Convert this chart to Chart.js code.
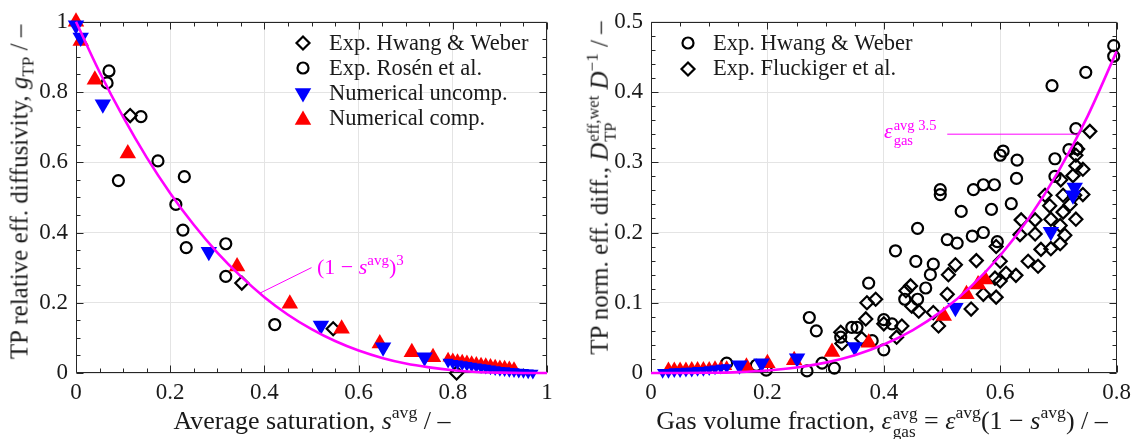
<!DOCTYPE html>
<html>
<head>
<meta charset="utf-8">
<title>TP effective diffusivity</title>
<script src="https://cdn.jsdelivr.net/npm/chart.js@4.4.1/dist/chart.umd.min.js"></script>
<style>
  html, body { margin: 0; padding: 0; background: #fff; }
  body { position: relative; width: 1137px; height: 439px; overflow: hidden;
         font-family: "Liberation Serif", "DejaVu Serif", serif; color: #1a1a1a; }
  #left-wrap { position: absolute; left: 0; top: 0; width: 565px; height: 439px; }
  #right-wrap { position: absolute; left: 580px; top: 0; width: 557px; height: 439px; }
  .label { position: absolute; white-space: nowrap; font-size: 26px; line-height: 1; }
  .label.ytitle { font-size: 25px; }
  .center { transform: translate(-50%, -50%); }
  .vert { transform: translate(-50%, -50%) rotate(-90deg); }
  .note { color: #ff00ff; font-size: 22px; transform: translate(0, -50%); }
  sup, sub { font-size: 68%; line-height: 0; }
  sup { vertical-align: 0.6em; }
  sub { vertical-align: -0.35em; }
  .stack { display: inline-flex; flex-direction: column; vertical-align: middle;
           font-size: 66%; line-height: 1.05; margin-left: 1px; }
</style>
</head>
<body>
<div id="left-wrap"><canvas id="left-chart" width="565" height="439"></canvas></div>
<div id="right-wrap"><canvas id="right-chart" width="557" height="439"></canvas></div>

<!-- axis titles -->
<div class="label center" style="left:312px; top:421px;">Average saturation, <i>s</i><sup>avg</sup> / –</div>
<div class="label ytitle vert" style="left:19px; top:192px;">TP relative eff. diffusivity, <i>g</i><sub>TP</sub> / –</div>
<div class="label center" style="left:882px; top:423px;">Gas volume fraction, <i>ε</i><span class="stack"><span>avg</span><span>gas</span></span> = <i>ε</i><sup>avg</sup>(1 − <i>s</i><sup>avg</sup>) / –</div>
<div class="label ytitle vert" style="left:602px; top:188px;">TP norm. eff. diff., <i>D</i><span class="stack"><span>eff,wet</span><span>TP</span></span> <i>D</i><sup>−1</sup> / –</div>

<!-- model annotations -->
<div class="label note" style="left:317px; top:267px;">(1 − <i>s</i><sup>avg</sup>)<sup>3</sup></div>
<div class="label note" style="left:884px; top:133px;"><i>ε</i><span class="stack"><span>avg 3.5</span><span>gas</span></span></div>

<script>
// ---- left panel: g_TP over average saturation ----
const sModel = [0, 0.05, 0.1, 0.15, 0.2, 0.25, 0.3, 0.35, 0.4, 0.45, 0.5,
                0.55, 0.6, 0.65, 0.7, 0.75, 0.8, 0.85, 0.9, 0.95, 1];
const gModel = [1, 0.857, 0.729, 0.614, 0.512, 0.422, 0.343, 0.275, 0.216, 0.166, 0.125,
                0.091, 0.064, 0.043, 0.027, 0.016, 0.008, 0.003, 0.001, 0.0001, 0];

const hwangLeft = [[0.115, 0.733], [0.352, 0.256], [0.546, 0.126], [0.808, 0.0]];
const rosenLeft = [[0.07, 0.86], [0.066, 0.826], [0.138, 0.73], [0.174, 0.604], [0.09, 0.548],
                   [0.23, 0.559], [0.212, 0.48], [0.227, 0.407], [0.234, 0.357], [0.318, 0.368],
                   [0.318, 0.275], [0.422, 0.138]];
const uncompLeft = [[0, 0.99], [0.01, 0.955], [0.057, 0.765], [0.282, 0.345], [0.52, 0.135],
                    [0.652, 0.073], [0.74, 0.045]];
const uncompLeftTail = [[0.79, 0.031], [0.8, 0.028], [0.81, 0.026], [0.82, 0.024], [0.83, 0.022],
                        [0.84, 0.02], [0.85, 0.018], [0.86, 0.016], [0.87, 0.014], [0.88, 0.012],
                        [0.89, 0.01], [0.9, 0.008], [0.91, 0.007], [0.92, 0.005], [0.93, 0.004],
                        [0.94, 0.003], [0.95, 0.002], [0.96, 0.001], [0.97, 0.0]];
const compLeft = [[0, 1.0], [0.01, 0.945], [0.04, 0.835], [0.11, 0.625], [0.342, 0.303],
                  [0.454, 0.197], [0.564, 0.126], [0.645, 0.084], [0.713, 0.059], [0.758, 0.045]];
const compLeftTail = [[0.79, 0.042], [0.8, 0.04], [0.81, 0.038], [0.82, 0.036], [0.83, 0.034],
                      [0.84, 0.032], [0.85, 0.03], [0.86, 0.028], [0.87, 0.026], [0.88, 0.024],
                      [0.89, 0.022], [0.9, 0.02], [0.91, 0.019], [0.92, 0.017], [0.93, 0.015]];

// ---- right panel: normalised eff. diffusivity over gas volume fraction ----
const epsModel = [0, 0.05, 0.1, 0.15, 0.2, 0.25, 0.3, 0.35, 0.4, 0.45, 0.5,
                  0.55, 0.6, 0.65, 0.7, 0.75, 0.8];
const dModel = [0, 0.00003, 0.0003, 0.0013, 0.0036, 0.0078, 0.0148, 0.0254, 0.0405, 0.0611, 0.0884,
                0.1234, 0.1673, 0.2214, 0.287, 0.3654, 0.4579];

const hwangRight = [[0.795, 0.466], [0.795, 0.451], [0.747, 0.428], [0.689, 0.409], [0.73, 0.348],
                    [0.718, 0.318], [0.732, 0.319], [0.694, 0.305], [0.694, 0.28], [0.605, 0.316],
                    [0.6, 0.31], [0.629, 0.303], [0.628, 0.277], [0.59, 0.268], [0.571, 0.268],
                    [0.554, 0.261], [0.497, 0.261], [0.497, 0.254], [0.619, 0.241], [0.533, 0.23],
                    [0.585, 0.233], [0.458, 0.206], [0.509, 0.19], [0.526, 0.185], [0.552, 0.195],
                    [0.571, 0.2], [0.595, 0.187], [0.42, 0.174], [0.455, 0.159], [0.485, 0.155],
                    [0.48, 0.14], [0.472, 0.121], [0.458, 0.105], [0.436, 0.105], [0.4, 0.076],
                    [0.414, 0.07], [0.4, 0.033], [0.374, 0.128], [0.272, 0.079], [0.284, 0.06],
                    [0.345, 0.065], [0.354, 0.065], [0.326, 0.051], [0.38, 0.046], [0.268, 0.003],
                    [0.315, 0.007], [0.294, 0.014], [0.198, 0.004], [0.181, 0.011], [0.13, 0.014]];
const fluckigerRight = [[0.754, 0.344], [0.733, 0.319], [0.73, 0.31], [0.73, 0.295], [0.742, 0.29],
                        [0.704, 0.275], [0.725, 0.281], [0.742, 0.254], [0.728, 0.253], [0.677, 0.253],
                        [0.523, 0.154], [0.511, 0.14], [0.559, 0.16], [0.593, 0.18], [0.6, 0.159],
                        [0.591, 0.135], [0.61, 0.142], [0.627, 0.139], [0.6, 0.131], [0.571, 0.112],
                        [0.593, 0.108], [0.55, 0.091], [0.509, 0.112], [0.485, 0.086], [0.494, 0.067],
                        [0.46, 0.088], [0.446, 0.124], [0.438, 0.117], [0.448, 0.095], [0.431, 0.067],
                        [0.422, 0.051], [0.4, 0.07], [0.634, 0.197], [0.636, 0.218], [0.66, 0.218],
                        [0.66, 0.198], [0.648, 0.159], [0.665, 0.152], [0.67, 0.176], [0.685, 0.238],
                        [0.687, 0.219], [0.703, 0.21], [0.708, 0.229], [0.703, 0.184], [0.687, 0.177],
                        [0.711, 0.196], [0.73, 0.219], [0.72, 0.24], [0.708, 0.253], [0.371, 0.1],
                        [0.386, 0.105], [0.369, 0.077], [0.326, 0.058], [0.328, 0.042], [0.362, 0.049]];
const uncompRight = [[0.728, 0.264], [0.725, 0.253], [0.687, 0.201], [0.523, 0.093], [0.35, 0.037],
                     [0.251, 0.021], [0.19, 0.014], [0.152, 0.011]];
const uncompRightTail = [[0.13, 0.008], [0.12, 0.007], [0.11, 0.006], [0.1, 0.005], [0.09, 0.004],
                         [0.08, 0.004], [0.07, 0.003], [0.06, 0.003], [0.05, 0.002], [0.04, 0.002],
                         [0.03, 0.001], [0.02, 0.001]];
const compRight = [[0.574, 0.133], [0.562, 0.126], [0.542, 0.112], [0.503, 0.081], [0.374, 0.043],
                   [0.311, 0.03], [0.246, 0.018], [0.2, 0.014], [0.164, 0.009]];
const compRightTail = [[0.13, 0.009], [0.12, 0.009], [0.11, 0.009], [0.1, 0.008], [0.09, 0.008],
                       [0.08, 0.008], [0.07, 0.008], [0.06, 0.007], [0.05, 0.007], [0.04, 0.007],
                       [0.03, 0.007]];

const MAGENTA = '#ff00ff';
const BLUE = '#0000ff';
const RED = '#ff0000';
const TEXT = '#1a1a1a';
const GRID = '#e4e4e4';
const FONT = '"Liberation Serif", "DejaVu Serif", serif';

const pairs = list => list.map(([x, y]) => ({ x, y }));
const zip = (xs, ys) => xs.map((x, i) => ({ x, y: ys[i] }));
// 0, 0.2, ... 1 (no trailing zeros like matlab)
const tickText = v => String(Math.round(v * 100) / 100);

function curveSet(points) {
    return { data: points, showLine: true, pointRadius: 0, borderColor: MAGENTA, borderWidth: 2.6,
             cubicInterpolationMode: 'monotone', clip: false };
}
function openSet(points, style, radius) {
    return { data: points, pointStyle: style, pointRadius: radius, borderColor: '#000',
             backgroundColor: 'rgba(0,0,0,0)', borderWidth: 2.2, clip: false };
}
function triSet(points, color, rotation, radius) {
    return { data: points, pointStyle: 'triangle', pointRotation: rotation, pointRadius: radius,
             backgroundColor: color, borderColor: color, borderWidth: 0, clip: false };
}

// box round the plot area with inward major / minor ticks (matlab look)
const frameTicks = {
    id: 'frameTicks',
    beforeDatasetsDraw(chart, args, opts) {
        const { ctx, chartArea: a, scales: { x, y } } = chart;
        const L = Math.round(a.left) + 0.5, R = Math.round(a.right) - 0.5;
        const T = Math.round(a.top) + 0.5, B = Math.round(a.bottom) - 0.5;
        ctx.save();
        ctx.strokeStyle = '#262626';
        ctx.lineWidth = 1;
        ctx.beginPath();
        ctx.rect(L, T, R - L, B - T);
        const isMajor = (v, step) => Math.abs(v / step - Math.round(v / step)) < 1e-6;
        const nx = Math.round((x.max - x.min) / opts.xMinor);
        for (let i = 0; i <= nx; i++) {
            const v = x.min + i * opts.xMinor;
            const len = isMajor(v, opts.xMajor) ? 7 : 4;
            const px = Math.round(x.getPixelForValue(v)) + 0.5;
            ctx.moveTo(px, B); ctx.lineTo(px, B - len);
            ctx.moveTo(px, T); ctx.lineTo(px, T + len);
        }
        const ny = Math.round((y.max - y.min) / opts.yMinor);
        for (let i = 0; i <= ny; i++) {
            const v = y.min + i * opts.yMinor;
            const len = isMajor(v, opts.yMajor) ? 7 : 4;
            const py = Math.round(y.getPixelForValue(v)) + 0.5;
            ctx.moveTo(L, py); ctx.lineTo(L + len, py);
            ctx.moveTo(R, py); ctx.lineTo(R - len, py);
        }
        ctx.stroke();
        ctx.restore();
    }
};

// thin magenta pointer from the model curve to its label
const leaderLines = {
    id: 'leaderLines',
    afterDatasetsDraw(chart, args, opts) {
        const { ctx, scales: { x, y } } = chart;
        ctx.save();
        ctx.strokeStyle = MAGENTA;
        ctx.lineWidth = 1;
        (opts.lines || []).forEach(l => {
            ctx.beginPath();
            ctx.moveTo(x.getPixelForValue(l[0]), y.getPixelForValue(l[1]));
            ctx.lineTo(x.getPixelForValue(l[2]), y.getPixelForValue(l[3]));
            ctx.stroke();
        });
        ctx.restore();
    }
};

// legend inside the axes
const insetLegend = {
    id: 'insetLegend',
    afterDraw(chart, args, opts) {
        const ctx = chart.ctx;
        ctx.save();
        ctx.font = '22.5px ' + FONT;
        ctx.textBaseline = 'alphabetic';
        opts.items.forEach(item => {
            const ds = chart.data.datasets[item.dataset];
            ctx.save();
            ctx.strokeStyle = ds.borderColor;
            ctx.fillStyle = ds.backgroundColor;
            ctx.lineWidth = ds.borderWidth;
            Chart.helpers.drawPoint(ctx, {
                pointStyle: ds.pointStyle, radius: item.radius,
                rotation: ds.pointRotation || 0, borderWidth: ds.borderWidth
            }, opts.markerX, item.y);
            ctx.restore();
            ctx.fillStyle = TEXT;
            ctx.fillText(item.label, opts.textX, item.baseline);
        });
        ctx.restore();
    }
};

function axes(xMax, xStep, yMax, yStep, yWidth) {
    return {
        x: {
            type: 'linear', min: 0, max: xMax,
            ticks: { stepSize: xStep, padding: 6, color: TEXT, maxRotation: 0, font: { size: 23 },
                     callback: tickText },
            grid: { color: GRID, drawTicks: false },
            border: { display: false },
            afterFit: s => { s.height = 66; }
        },
        y: {
            type: 'linear', min: 0, max: yMax,
            ticks: { stepSize: yStep, padding: 8, color: TEXT, font: { size: 23 },
                     callback: tickText },
            grid: { color: GRID, drawTicks: false },
            border: { display: false },
            afterFit: s => { s.width = yWidth; }
        }
    };
}

Chart.defaults.font.family = FONT;
Chart.defaults.color = TEXT;

new Chart(document.getElementById('left-chart'), {
    type: 'scatter',
    data: {
        datasets: [
            curveSet(zip(sModel, gModel)),
            triSet(pairs(uncompLeft), BLUE, 180, 9.5),
            triSet(pairs(uncompLeftTail), BLUE, 180, 6.5),
            triSet(pairs(compLeft), RED, 0, 9.5),
            triSet(pairs(compLeftTail), RED, 0, 6.5),
            openSet(pairs(rosenLeft), 'circle', 5.5),
            openSet(pairs(hwangLeft), 'rectRot', 6.5)
        ]
    },
    options: {
        responsive: false,
        animation: false,
        events: [],
        layout: { padding: { top: 17, right: 18, left: 0, bottom: 0 } },
        scales: axes(1, 0.2, 1, 0.2, 76),
        plugins: {
            legend: { display: false },
            tooltip: { enabled: false },
            frameTicks: { xMinor: 0.05, xMajor: 0.2, yMinor: 0.05, yMajor: 0.2 },
            leaderLines: { lines: [[0.39, 0.227, 0.5, 0.3]] },
            insetLegend: {
                markerX: 303, textX: 329,
                items: [
                    { dataset: 6, label: 'Exp. Hwang & Weber', y: 43, baseline: 50, radius: 6.5 },
                    { dataset: 5, label: 'Exp. Rosén et al.', y: 68, baseline: 75, radius: 5.5 },
                    { dataset: 1, label: 'Numerical uncomp.', y: 93, baseline: 100, radius: 9.5 },
                    { dataset: 3, label: 'Numerical comp.', y: 120, baseline: 125, radius: 9.5 }
                ]
            }
        }
    },
    plugins: [frameTicks, leaderLines, insetLegend]
});

new Chart(document.getElementById('right-chart'), {
    type: 'scatter',
    data: {
        datasets: [
            curveSet(zip(epsModel, dModel)),
            triSet(pairs(uncompRight), BLUE, 180, 9.5),
            triSet(pairs(uncompRightTail), BLUE, 180, 6.5),
            triSet(pairs(compRight), RED, 0, 9.5),
            triSet(pairs(compRightTail), RED, 0, 6.5),
            openSet(pairs(hwangRight), 'circle', 5.5),
            openSet(pairs(fluckigerRight), 'rectRot', 6.5)
        ]
    },
    options: {
        responsive: false,
        animation: false,
        events: [],
        layout: { padding: { top: 17, right: 18, left: 0, bottom: 0 } },
        scales: axes(0.8, 0.2, 0.5, 0.1, 71),
        plugins: {
            legend: { display: false },
            tooltip: { enabled: false },
            frameTicks: { xMinor: 0.05, xMajor: 0.2, yMinor: 0.02, yMajor: 0.1 },
            leaderLines: { lines: [[0.509, 0.34, 0.733, 0.34]] },
            insetLegend: {
                markerX: 108, textX: 133,
                items: [
                    { dataset: 5, label: 'Exp. Hwang & Weber', y: 43, baseline: 50, radius: 5.5 },
                    { dataset: 6, label: 'Exp. Fluckiger et al.', y: 69, baseline: 75, radius: 6.5 }
                ]
            }
        }
    },
    plugins: [frameTicks, leaderLines, insetLegend]
});
</script>
</body>
</html>
